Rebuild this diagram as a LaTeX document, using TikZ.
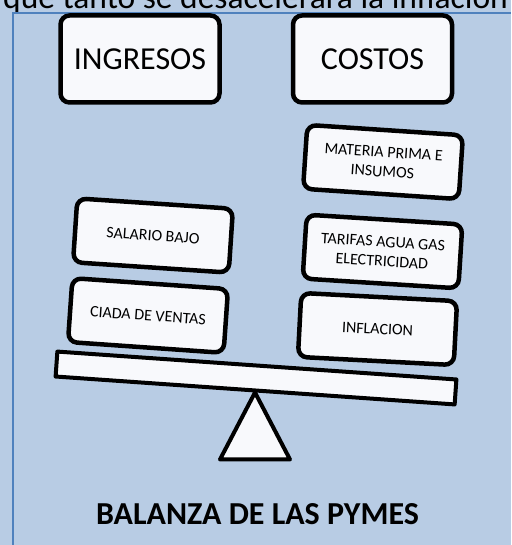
\documentclass[tikz,border=0pt]{standalone}
\usepackage{fontspec}
\setmainfont{Carlito}
\definecolor{bg}{HTML}{B8CCE4}
\definecolor{framecol}{HTML}{4F81BD}
\definecolor{boxfill}{HTML}{F8F9FC}
\tikzset{
  card/.style={draw=black, line width=4.5pt, fill=boxfill, rounded corners=9pt,
    align=center, inner sep=0pt, font=\fontsize{16}{19.5}\selectfont},
  bigcard/.style={card, minimum width=159pt, minimum height=87pt, font=\fontsize{32}{32}\selectfont},
  smallcard/.style={card, minimum width=156pt, minimum height=64pt},
  plate/.style={draw=black, line width=4pt, fill=boxfill, line join=round}
}
\begin{document}
\begin{tikzpicture}[x=1pt,y=-1pt]
\useasboundingbox (0,0) rectangle (511,545);
\fill[bg] (0,0) rectangle (511,545);
\begin{scope}
\clip (0,0) rectangle (511,545);
\node[anchor=base east, inner sep=0pt, font=\fontsize{33.5}{33.5}\selectfont] (toptext) at (508,9) {que tanto se desacelerará la inflación};
\end{scope}
\draw[framecol, line width=1.3pt] (13,545) -- (13,13) -- (511,13);

\node[bigcard] (ingresos) at (140,59) {INGRESOS};
\node[bigcard] (costos) at (372.5,59) {COSTOS};

\node[plate, minimum width=400pt, minimum height=25pt, inner sep=0pt, rotate=-4] (beam) at (256,378) {};
\draw[plate] (beam.south) -- ++(35,67) -- ++(-70,0) -- cycle;

\node[smallcard, rotate=-3.8] (salario) at (153,235.5) {SALARIO BAJO};
\node[smallcard, rotate=-4] (ciada) at (148,315.5) {CIADA DE VENTAS};
\node[smallcard, rotate=-3.8] (materia) at (383,162) {MATERIA PRIMA E\\INSUMOS};
\node[smallcard, rotate=-3.6] (tarifas) at (382.5,251.5) {TARIFAS AGUA GAS\\ELECTRICIDAD};
\node[smallcard, rotate=-3] (inflacion) at (377.5,329) {INFLACION};

\node[anchor=base, inner sep=0pt, font=\bfseries\fontsize{32}{32}\selectfont] (title) at (257.5,524) {BALANZA DE LAS PYMES};
\end{tikzpicture}
\end{document}
